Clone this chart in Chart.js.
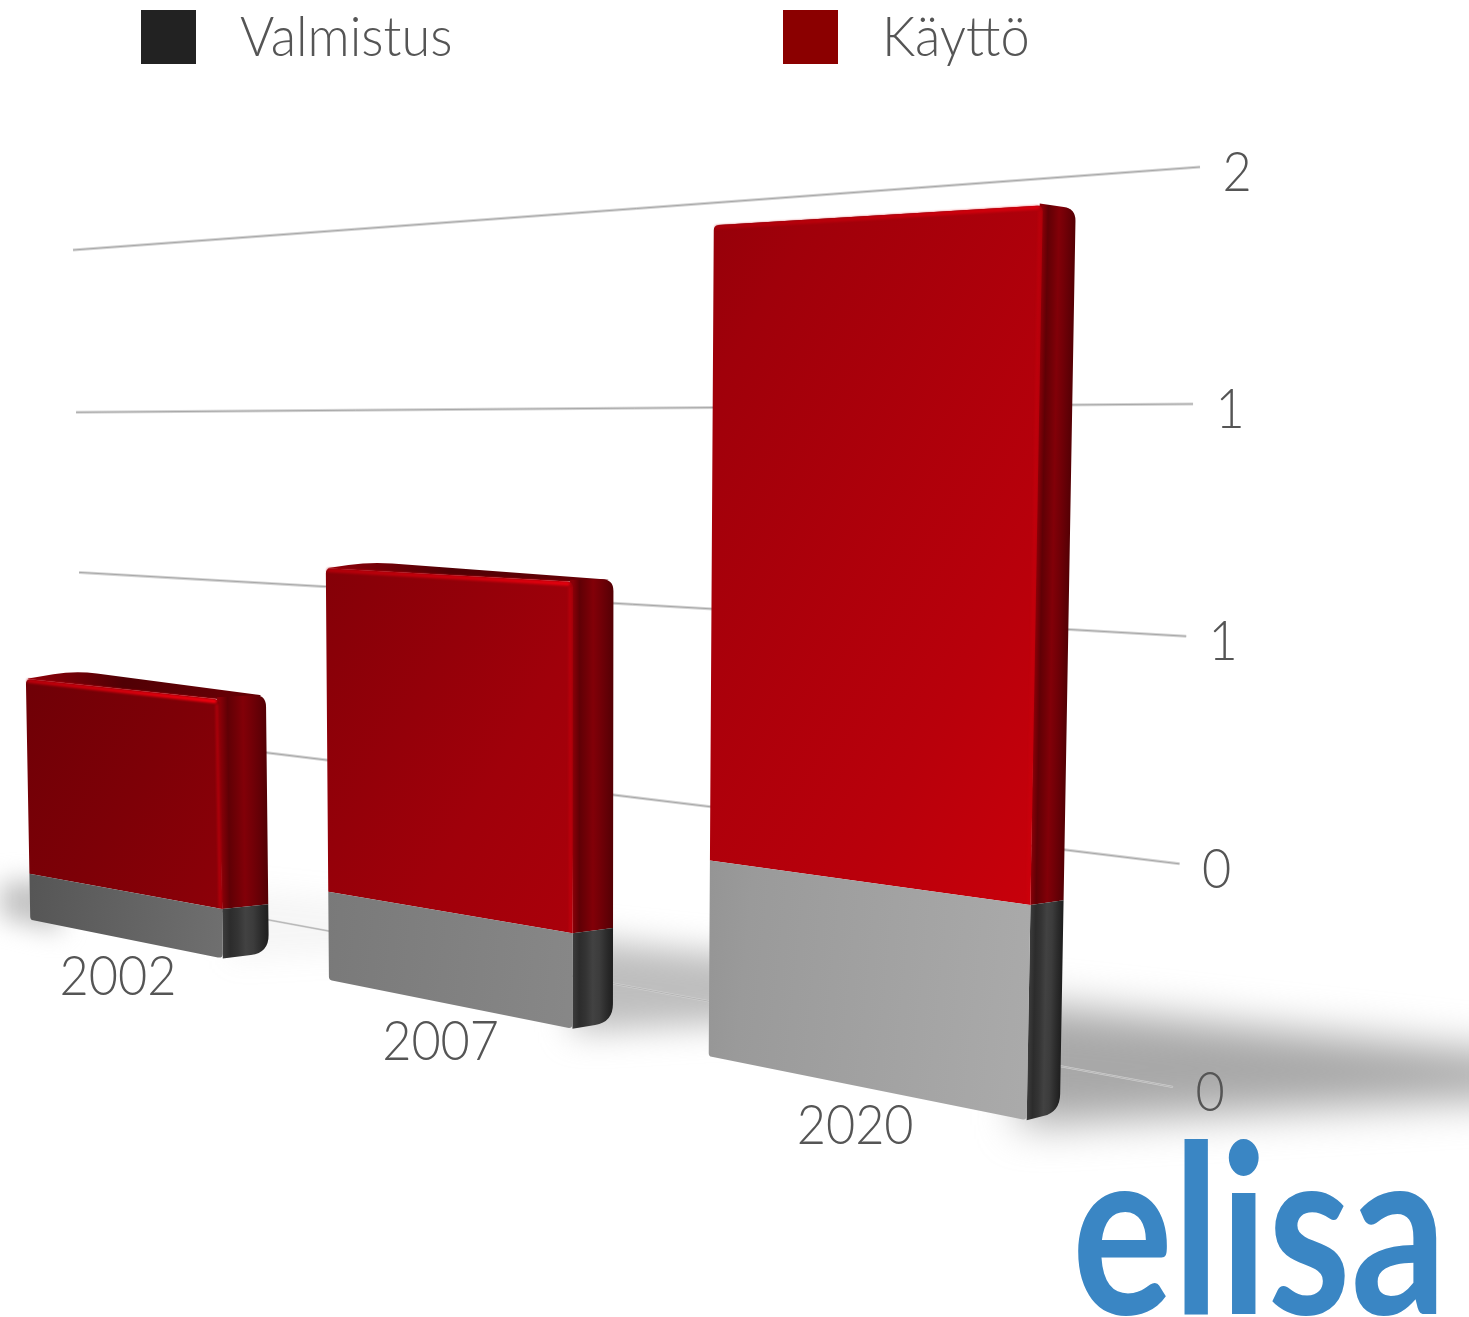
<!DOCTYPE html>
<html><head><meta charset="utf-8">
<script src="https://cdn.jsdelivr.net/npm/chart.js@4"></script>
<style>html,body{margin:0;padding:0;background:#fff}canvas{display:block}</style>
</head><body><canvas id="c" width="1469" height="1317"></canvas>
<script>
const categories = ['2002', '2007', '2020'];
const valmistus = [0.14, 0.24, 0.47];
const kaytto = [0.59, 0.87, 1.48];
const tickLabels = ['0', '0', '1', '1', '2'];
const seriesNames = ['Valmistus', 'Käyttö'];
const seriesColors = ['#222222', '#8b0000'];
const logoText = 'elisa';

// projective mapping of the plot rectangle on to the view
const FRONT_QUAD = [[-13, 911], [1115, 1138], [1135, 175], [-26, 253]];
const GRID_QUAD = [[85, 886], [1173, 1087], [1200, 167], [73, 250]];
const DEPTH_VP = [3100, 600], DEPTH_T = 0.016;
const TEXT = '#555555', FONT = '"Lato"';
const RED_SIDE = ['#8a0008', '#600005', '#700006', '#820008', '#740007', '#640006', '#540004'];
const GREY_SIDE = ['#3c3c3c', '#2c2c2c', '#343434', '#424242', '#3c3c3c', '#2c2c2c', '#1e1e1e'];

function solve(A, b) {
  const n = b.length, M = A.map((r, i) => [...r, b[i]]);
  for (let i = 0; i < n; i++) {
    let p = i; for (let k = i + 1; k < n; k++) if (Math.abs(M[k][i]) > Math.abs(M[p][i])) p = k;
    [M[i], M[p]] = [M[p], M[i]];
    for (let k = 0; k < n; k++) if (k !== i) { const f = M[k][i] / M[i][i]; for (let j = i; j <= n; j++) M[k][j] -= f * M[i][j]; }
  }
  return M.map((r, i) => r[n] / r[i]);
}
function homography(area, quad) {
  const src = [[area.left, area.bottom], [area.right, area.bottom], [area.right, area.top], [area.left, area.top]];
  const A = [], b = [];
  src.forEach(([x, y], i) => {
    const [X, Y] = quad[i];
    A.push([x, y, 1, 0, 0, 0, -x * X, -y * X]); b.push(X);
    A.push([0, 0, 0, x, y, 1, -x * Y, -y * Y]); b.push(Y);
  });
  const h = solve(A, b);
  return (x, y) => { const w = h[6] * x + h[7] * y + 1; return [(h[0] * x + h[1] * y + h[2]) / w, (h[3] * x + h[4] * y + h[5]) / w]; };
}
const back = p => [p[0] + DEPTH_T * (DEPTH_VP[0] - p[0]), p[1] + DEPTH_T * (DEPTH_VP[1] - p[1])];
const mix = (a, b, t) => [a[0] + (b[0] - a[0]) * t, a[1] + (b[1] - a[1]) * t];

function roundPoly(ctx, pts, radii) {
  const n = pts.length;
  ctx.beginPath();
  for (let i = 0; i < n; i++) {
    const p = pts[i], a = pts[(i + n - 1) % n], b = pts[(i + 1) % n], r = radii[i] || 0;
    const la = Math.hypot(p[0] - a[0], p[1] - a[1]), lb = Math.hypot(p[0] - b[0], p[1] - b[1]);
    const ra = Math.min(r, la / 2), rb = Math.min(r, lb / 2);
    const s = mix(p, a, ra / la), e = mix(p, b, rb / lb);
    if (i === 0) ctx.moveTo(s[0], s[1]); else ctx.lineTo(s[0], s[1]);
    ctx.quadraticCurveTo(p[0], p[1], e[0], e[1]);
  }
  ctx.closePath();
}
function stops(g, list) { list.forEach(([o, c]) => g.addColorStop(o, c)); return g; }
// side face: a gradient that crosses the face at right angles to its near edge
function sideFill(ctx, a1, a2, b1, colors) {
  const dx = a2[0] - a1[0], dy = a2[1] - a1[1], len = Math.hypot(dx, dy);
  const nx = dy / len, ny = -dx / len;
  const w = Math.abs((b1[0] - a1[0]) * nx + (b1[1] - a1[1]) * ny);
  const sign = ((b1[0] - a1[0]) * nx + (b1[1] - a1[1]) * ny) >= 0 ? 1 : -1;
  const g = ctx.createLinearGradient(a1[0], a1[1], a1[0] + sign * nx * w, a1[1] + sign * ny * w);
  colors.forEach((c, i) => g.addColorStop(i / (colors.length - 1), c));
  return g;
}
function text(ctx, s, x, y, size, sx, align) {
  ctx.save();
  ctx.translate(x, y); ctx.scale(sx, 1);
  ctx.font = `300 ${size}px ${FONT}`; ctx.fillStyle = TEXT;
  ctx.textAlign = align; ctx.textBaseline = 'alphabetic';
  ctx.fillText(s, 0, 0);
  ctx.restore();
}

const scene = {
  id: 'scene',
  beforeDatasetDraw() { return false; },
  beforeDatasetsDraw(chart) {
    const ctx = chart.ctx, a = chart.chartArea, yS = chart.scales.y;
    const front = homography(a, FRONT_QUAD), grid = homography(a, GRID_QUAD);
    const low = chart.getDatasetMeta(0).data, high = chart.getDatasetMeta(1).data;

    // floor shadows
    const strength = [0.1, 0.75, 1];
    low.forEach((el, i) => {
      const hw = el.width / 2, br = back(front(el.x + hw, el.base)), bl = front(el.x - hw, el.base);
      const s = (br[0] - back(bl)[0]) / 330;
      ctx.save();
      ctx.filter = `blur(${20 * s + 2}px)`;
      ctx.globalAlpha = strength[i];
      ctx.fillStyle = '#a8a8a8';
      ctx.beginPath();
      ctx.moveTo(br[0] - 40, br[1] - 115 * s);
      ctx.lineTo(br[0] + 480 * s, br[1] - 60 * s);
      ctx.lineTo(br[0] + 480 * s, br[1] - 16 * s);
      ctx.lineTo(br[0] - 40, br[1] + 14 * s);
      ctx.closePath(); ctx.fill();
      ctx.restore();
    });
    const el0 = low[0], bl0 = front(el0.x - el0.width / 2, el0.base);
    ctx.save(); ctx.filter = 'blur(12px)'; ctx.fillStyle = '#c4c4c4';
    ctx.beginPath(); ctx.moveTo(bl0[0] - 30, bl0[1] - 38); ctx.lineTo(bl0[0] + 30, bl0[1] - 40);
    ctx.lineTo(bl0[0] + 30, bl0[1] + 12); ctx.lineTo(bl0[0] - 30, bl0[1] - 2); ctx.closePath(); ctx.fill(); ctx.restore();

    // gridlines on the rear wall, from the value scale
    yS.ticks.forEach((t, i) => {
      const y = yS.getPixelForValue(t.value), p = grid(a.left, y), q = grid(a.right, y);
      ctx.save(); ctx.filter = 'blur(0.5px)';
      [[3, '#d4d4d4'], [1, '#a8a8a8']].forEach(([w, c]) => {
        ctx.lineWidth = i === 0 ? w * 0.7 : w; ctx.strokeStyle = c;
        ctx.beginPath(); ctx.moveTo(p[0], p[1]); ctx.lineTo(q[0], q[1]); ctx.stroke();
      });
      ctx.restore();
      text(ctx, t.label, q[0] + 37, q[1] + 24, 56, 0.9, 'center');
    });

    const redFace = ctx.createLinearGradient(0, 300, 1050, 900);
    stops(redFace, [[0, '#5a0005'], [0.3, '#7e0007'], [0.55, '#a0000a'], [0.85, '#b9000b'], [1, '#c9000b']]);
    const greyFace = ctx.createLinearGradient(30, 900, 1050, 1000);
    stops(greyFace, [[0, '#565656'], [0.25, '#777777'], [0.55, '#888888'], [0.7, '#9a9a9a'], [1, '#ababab']]);
    const litAlpha = [1, 0.85, 0.6];

    low.forEach((el, i) => {
      const top = high[i], hw = el.width / 2;
      const L = el.x - hw, R = el.x + hw;
      const TL = front(L, top.y), TR = front(R, top.y), BR = front(R, el.base), BL = front(L, el.base);
      const ML = front(L, el.y), MR = front(R, el.y);
      const bTL = back(TL), bTR = back(TR), bBR = back(BR), bMR = back(MR);

      // top face
      const topG = ctx.createLinearGradient(TL[0], TL[1], TR[0], TR[1]);
      stops(topG, [[0, '#8f0009'], [0.5, '#500004'], [1, '#640005']]);
      ctx.fillStyle = topG;
      roundPoly(ctx, [TL, [bTL[0], bTL[1] - 7], [bTR[0], bTR[1] - 2], TR], [4, 22, 10, 0]); ctx.fill();

      // side face: red part, then grey part
      ctx.fillStyle = sideFill(ctx, TR, BR, bTR, RED_SIDE);
      roundPoly(ctx, [[TR[0] - 3, TR[1] - 2], [bTR[0], bTR[1] - 3], bMR, MR], [0, 12, 0, 0]); ctx.fill();
      ctx.fillStyle = sideFill(ctx, TR, BR, bTR, GREY_SIDE);
      roundPoly(ctx, [MR, bMR, bBR, BR], [0, 0, 18, 0]); ctx.fill();

      // front faces
      ctx.fillStyle = redFace;
      roundPoly(ctx, [TL, TR, MR, ML], [5, 6, 0, 0]); ctx.fill();
      ctx.fillStyle = greyFace;
      roundPoly(ctx, [ML, MR, BR, BL], [0, 0, 5, 3]); ctx.fill();

      // lit edges
      ctx.save(); ctx.filter = 'blur(1.2px)'; ctx.lineCap = 'round'; ctx.globalAlpha = litAlpha[i];
      const lit = ctx.createLinearGradient(TL[0], TL[1], TR[0], TR[1]);
      stops(lit, [[0, '#b8000b'], [0.8, '#e8000e'], [1, '#f5000f']]);
      ctx.strokeStyle = lit; ctx.lineWidth = 4;
      ctx.beginPath(); ctx.moveTo(TL[0] + 3, TL[1] + 2); ctx.lineTo(TR[0] - 5, TR[1] + 2); ctx.stroke();
      ctx.strokeStyle = 'rgba(215,0,14,0.5)'; ctx.lineWidth = 3;
      ctx.beginPath(); ctx.moveTo(TR[0] - 3, TR[1] + 6); ctx.lineTo(MR[0] - 2, MR[1] - 2); ctx.stroke();
      ctx.restore();
    });

    // category labels under each bar
    chart.scales.x.ticks.forEach((t, i) => {
      const u = chart.scales.x.getPixelForTick(i), p = front(u, yS.getPixelForValue(0));
      text(ctx, t.label, p[0] - 5, p[1] + 57, 56, 0.9, 'center');
    });

    // legend
    const ds = chart.data.datasets, boxX = [141, 783];
    ds.forEach((d, i) => {
      ctx.fillStyle = d.backgroundColor;
      ctx.fillRect(boxX[i], 10, 55, 54);
      text(ctx, d.label, boxX[i] + 99, 56, 56, 0.935, 'left');
    });

    // logo
    ctx.save();
    ctx.translate(1072, 1314); ctx.scale(0.8, 1);
    ctx.font = `700 236px ${FONT}`; ctx.fillStyle = '#3a86c4'; ctx.textAlign = 'left';
    ctx.fillText(logoText, 0, 0);
    ctx.restore();
  }
};

new Chart(document.getElementById('c'), {
  type: 'bar',
  data: {
    labels: categories,
    datasets: [
      { label: seriesNames[0], data: valmistus, backgroundColor: seriesColors[0], stack: 's' },
      { label: seriesNames[1], data: kaytto, backgroundColor: seriesColors[1], stack: 's' }
    ]
  },
  plugins: [scene],
  options: {
    responsive: false, animation: false, devicePixelRatio: 1,
    layout: { padding: 0 },
    barPercentage: 0.67, categoryPercentage: 1,
    plugins: { legend: { display: false }, title: { display: false }, tooltip: { enabled: false } },
    scales: {
      x: { display: false, stacked: true },
      y: { display: false, stacked: true, min: 0, max: 2, ticks: { stepSize: 0.5, callback: (v, i) => tickLabels[i] } }
    }
  }
});
</script></body></html>
